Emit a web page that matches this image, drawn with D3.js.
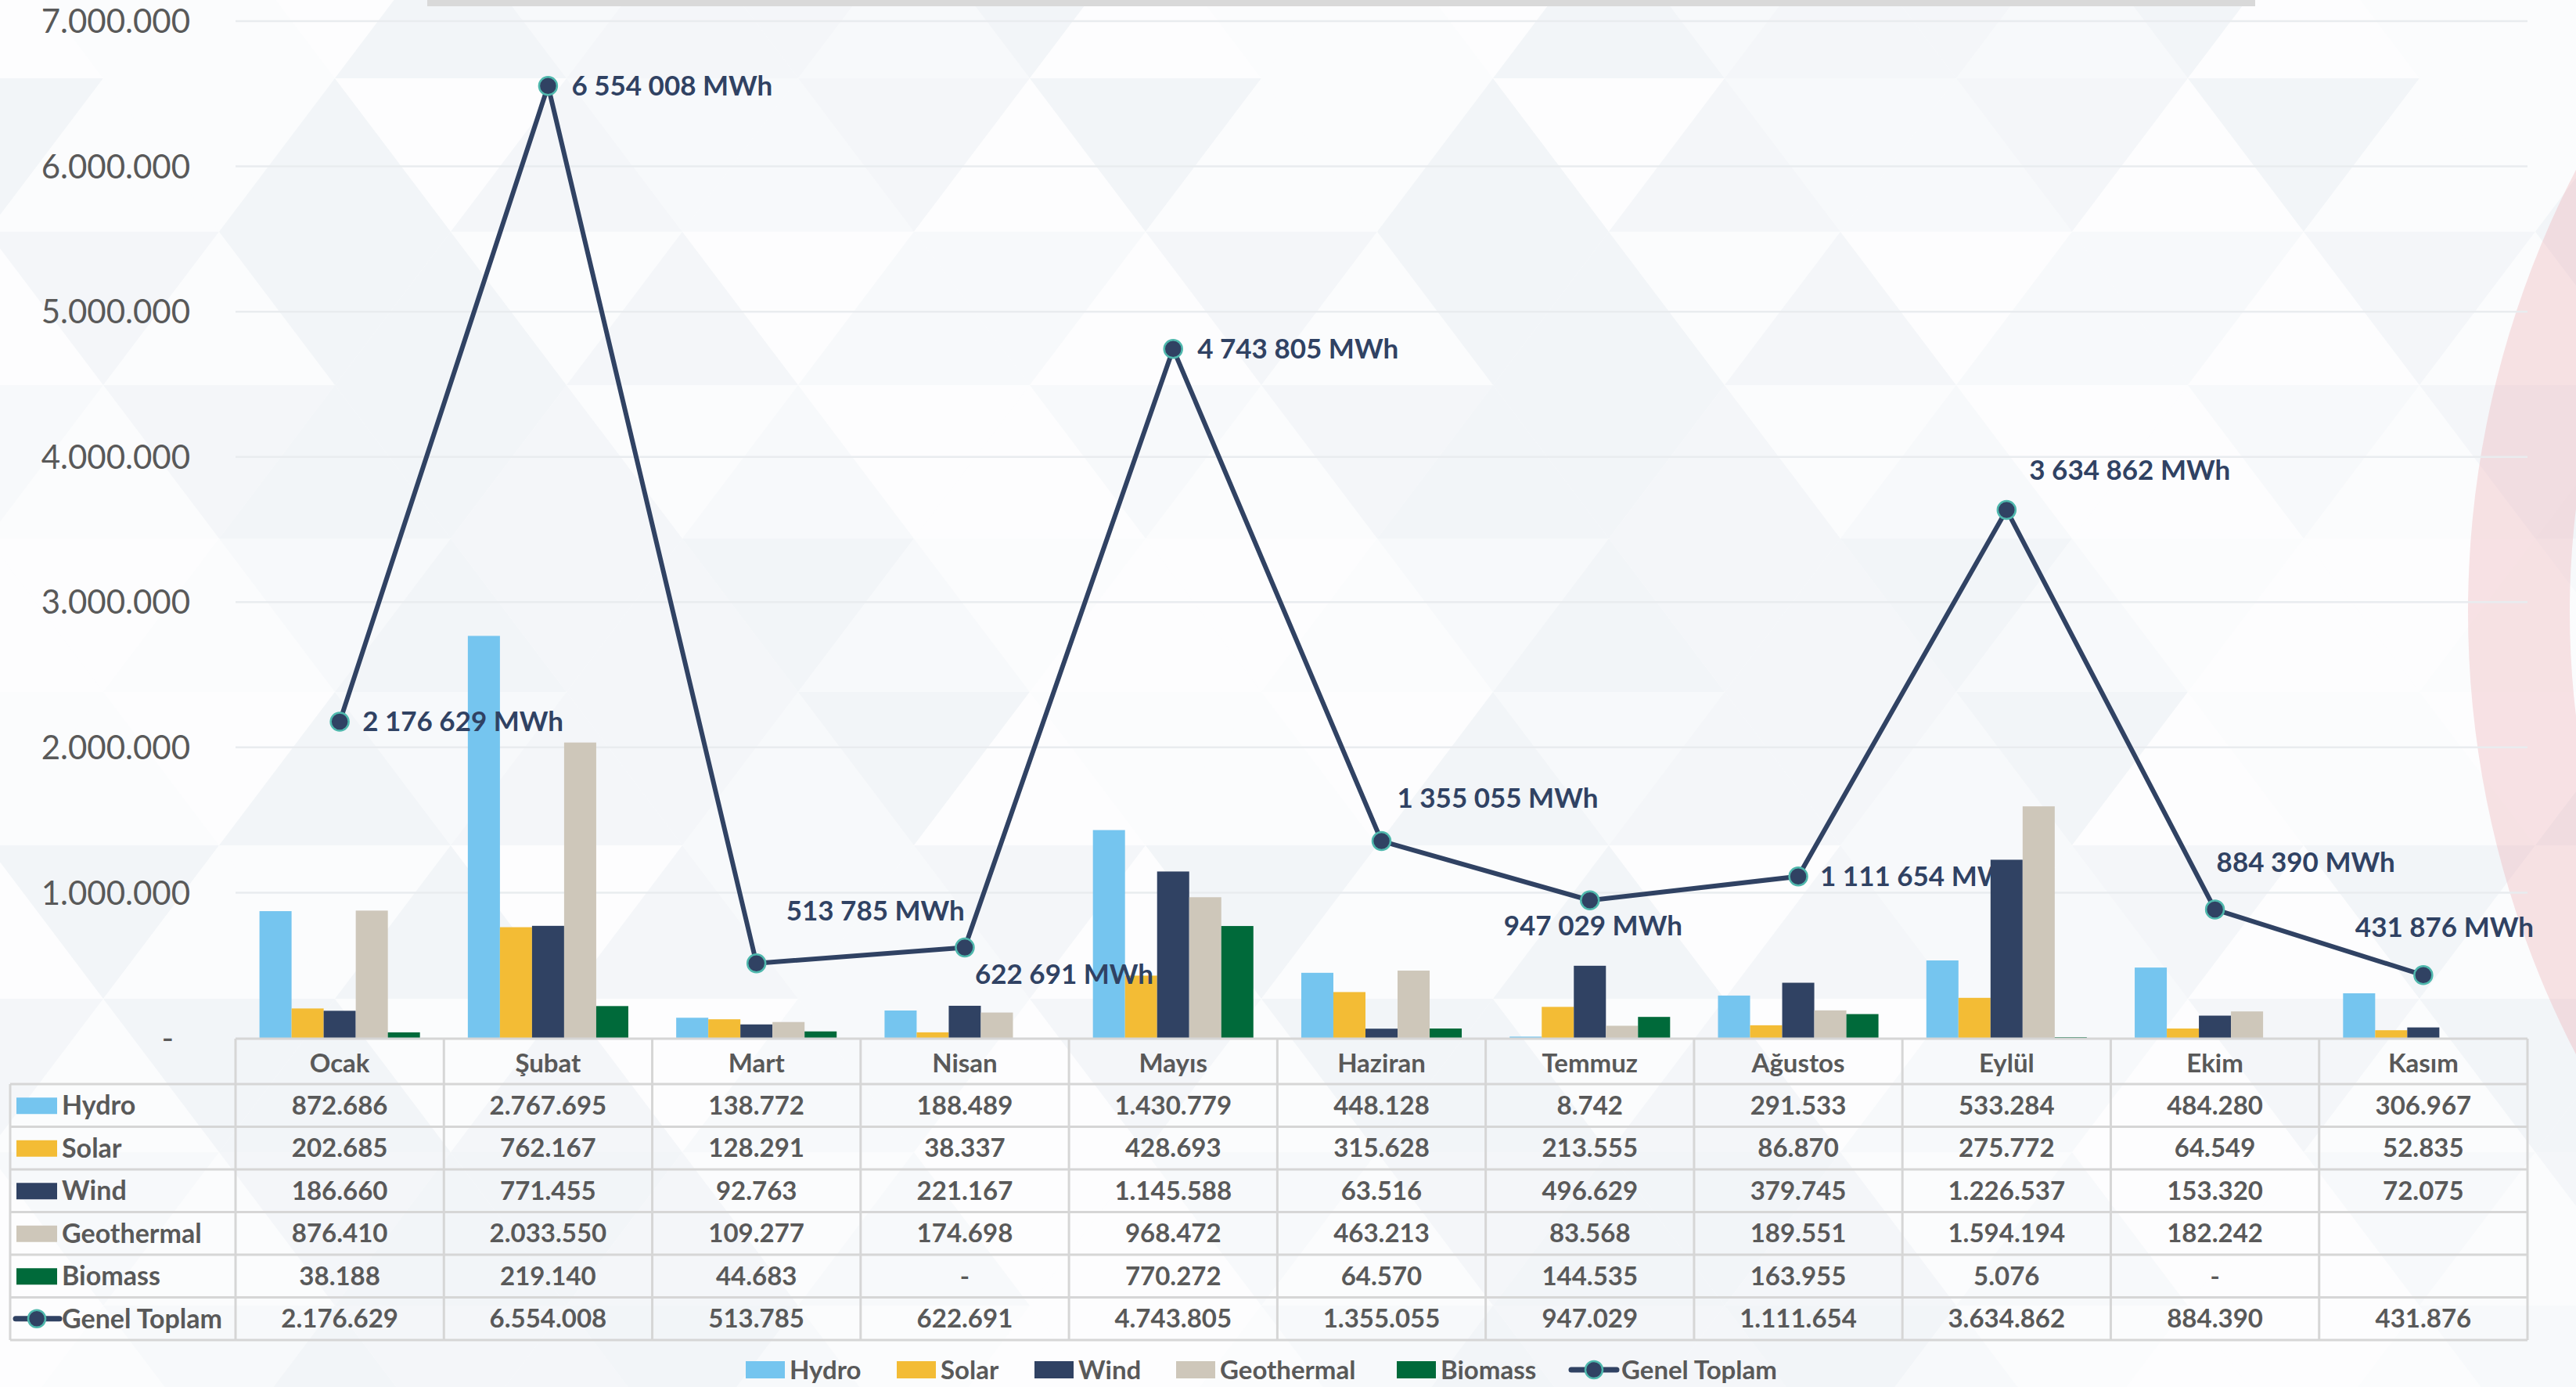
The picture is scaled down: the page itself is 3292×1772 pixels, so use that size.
<html>
<head>
<meta charset="UTF-8">
<title>Yenilenebilir Enerji</title>
<script src="https://d3js.org/d3.v7.min.js"></script>
<style>
 body { margin:0; background:#ffffff; }
 svg text { font-family: Lato, "Open Sans", sans-serif; }
</style>
</head>
<body>
<svg id="chart" width="3292" height="1772"></svg>
<script>
// data
var months = ["Ocak","Şubat","Mart","Nisan","Mayıs","Haziran","Temmuz","Ağustos","Eylül","Ekim","Kasım"];
var seriesNames = ["Hydro","Solar","Wind","Geothermal","Biomass"];
var hydro      = [872686, 2767695, 138772, 188489, 1430779, 448128, 8742, 291533, 533284, 484280, 306967];
var solar      = [202685, 762167, 128291, 38337, 428693, 315628, 213555, 86870, 275772, 64549, 52835];
var wind       = [186660, 771455, 92763, 221167, 1145588, 63516, 496629, 379745, 1226537, 153320, 72075];
var geothermal = [876410, 2033550, 109277, 174698, 968472, 463213, 83568, 189551, 1594194, 182242, null];
var biomass    = [38188, 219140, 44683, 0, 770272, 64570, 144535, 163955, 5076, 0, null];
var genelToplam = [2176629, 6554008, 513785, 622691, 4743805, 1355055, 947029, 1111654, 3634862, 884390, 431876];
var yTicks = [0, 1000000, 2000000, 3000000, 4000000, 5000000, 6000000, 7000000];
var lineName = "Genel Toplam";

// layout / style
var colors = {Hydro:"#75c5ef", Solar:"#f3bc35", Wind:"#304263", Geothermal:"#cec7ba", Biomass:"#006a3a"};
var lineColor = "#304263", markerStroke = "#4fb8ad", textGray = "#595959", gridGray = "#d6d6d6";
// where each total label sits relative to its point (px)
var labelOffsets = [[29,0],[30,0],[38,-67],[13,34],[31,0],[20,-55],[-110,32],[28,0],[29,-51],[2,-60],[-87,-61]];

var seriesValues = [hydro, solar, wind, geothermal, biomass];
var svg = d3.select("#chart");

var plotLeft = 301, plotRight = 3230;
var x0 = d3.scaleBand().domain(months).range([plotLeft, plotRight]);
var x1 = d3.scaleBand().domain(seriesNames).range([30.6, x0.bandwidth() - 30.6]);
var y = d3.scaleLinear().domain([0, 7000000]).range([1326, 27]);

/* background triangles */
svg.append("rect").attr("width", 3292).attr("height", 1772).style("fill", "#fafbfc");
var bg = svg.append("g");
var triW = 296, triH = 196, triX0 = 132, triY0 = 100;
var tris = [];
var md = function(a, n){ return ((a % n) + n) % n; };
for (var j = -1; j < 9; j++) {
  for (var k = -2; k < 13; k++) {
    var off = (md(j, 2) == 1) ? triW/2 : 0;
    var yt = triY0 + j*triH, xb = triX0 + k*triW + off;
    tris.push({pts:[[xb,yt],[xb+triW/2,yt+triH],[xb-triW/2,yt+triH]], s:md(j*5 + k*3 + 7, 5)});
    tris.push({pts:[[xb,yt],[xb+triW,yt],[xb+triW/2,yt+triH]], s:md(j*3 + k*7 + 2, 5)});
  }
}
var shades = ["#f2f5f8","#f7f9fb","#fbfcfd","#f4f6f9","#fdfdfe"];
bg.selectAll("polygon").data(tris).enter().append("polygon")
  .attr("points", function(d){ return d.pts.map(function(p){return p.join(",");}).join(" "); })
  .style("fill", function(d){ return shades[d.s]; });

// pink ring on the right edge
svg.append("path")
  .attr("d", d3.arc().innerRadius(1096).outerRadius(1226).startAngle(0).endAngle(2*Math.PI)())
  .attr("transform", "translate(4380,782)")
  .style("fill", "#eaa2aa").style("opacity", 0.3);

// grey strip at the top
svg.append("rect").attr("x", 546).attr("y", 0).attr("width", 2882-546).attr("height", 8).style("fill", "#d9d9d9");

/* gridlines + y axis */
var yAxis = d3.axisLeft(y).tickValues(yTicks).tickSize(0).tickPadding(0)
  .tickFormat(function(d){ return d == 0 ? "-" : d3.format(",")(d).replace(/,/g, "."); });
var gy = svg.append("g").attr("transform", "translate(243,0)").call(yAxis);
gy.select(".domain").remove();
gy.selectAll("text").style("font-size", "42px").style("fill", textGray)
  .style("font-family", "Lato, sans-serif").attr("dy", "0.35em")
  .attr("dx", function(d){ return d == 0 ? -21 : 0; });

svg.append("g").selectAll("line").data(yTicks.slice(1)).enter().append("line")
  .attr("x1", plotLeft).attr("x2", plotRight)
  .attr("y1", function(d){ return y(d); }).attr("y2", function(d){ return y(d); })
  .style("stroke", "#e9ecef").style("stroke-width", 2.5);

/* bars */
var groups = svg.append("g").selectAll("g").data(months).enter().append("g")
  .attr("transform", function(d){ return "translate(" + x0(d) + ",0)"; });
groups.selectAll("rect")
  .data(function(m, i){ return seriesNames.map(function(s, si){ return {s:s, v:seriesValues[si][i]}; }); })
  .enter().filter(function(d){ return d.v != null; }).append("rect")
  .attr("x", function(d){ return x1(d.s); })
  .attr("width", x1.bandwidth())
  .attr("y", function(d){ return y(d.v); })
  .attr("height", function(d){ return y(0) - y(d.v); })
  .style("fill", function(d){ return colors[d.s]; });

/* total line */
var pts = months.map(function(m, i){ return [x0(m) + x0.bandwidth()/2, y(genelToplam[i])]; });
svg.append("path").attr("d", d3.line()(pts))
  .style("fill", "none").style("stroke", lineColor).style("stroke-width", 6).style("stroke-linejoin", "round");
svg.append("g").selectAll("circle").data(pts).enter().append("circle")
  .attr("cx", function(d){ return d[0]; }).attr("cy", function(d){ return d[1]; }).attr("r", 11.5)
  .style("fill", lineColor).style("stroke", markerStroke).style("stroke-width", 2.5);

var spaceFmt = function(v){ return d3.format(",")(v).replace(/,/g, " ") + " MWh"; };
svg.append("g").selectAll("text").data(genelToplam).enter().append("text")
  .attr("x", function(d, i){ return pts[i][0] + labelOffsets[i][0]; })
  .attr("y", function(d, i){ return pts[i][1] + labelOffsets[i][1]; })
  .attr("dy", "0.35em")
  .text(spaceFmt)
  .style("font-size", "35px").style("font-weight", "bold").style("fill", lineColor);

/* data table */
var dotFmt = function(v){ return v == null ? "" : (v == 0 ? "-" : d3.format(",")(v).replace(/,/g, ".")); };
var tableTop = 1327, headH = 58, rowH = 54.5, legLeft = 13;
var rows = seriesNames.concat([lineName]);
var rowVals = seriesValues.concat([genelToplam]);
var tbl = svg.append("g");
var nRows = rows.length;
var tBottom = tableTop + headH + nRows*rowH;

// horizontal borders
tbl.append("line").attr("x1", plotLeft).attr("x2", plotRight).attr("y1", tableTop).attr("y2", tableTop);
for (var r = 0; r <= nRows; r++) {
  var yy = tableTop + headH + r*rowH;
  tbl.append("line").attr("x1", legLeft).attr("x2", plotRight).attr("y1", yy).attr("y2", yy);
}
// vertical borders
tbl.append("line").attr("x1", legLeft).attr("x2", legLeft).attr("y1", tableTop + headH).attr("y2", tBottom);
months.forEach(function(m){
  tbl.append("line").attr("x1", x0(m)).attr("x2", x0(m)).attr("y1", tableTop).attr("y2", tBottom);
});
tbl.append("line").attr("x1", plotRight).attr("x2", plotRight).attr("y1", tableTop).attr("y2", tBottom);
tbl.selectAll("line").style("stroke", gridGray).style("stroke-width", 3);

// month header
tbl.append("g").selectAll("text").data(months).enter().append("text")
  .attr("x", function(d){ return x0(d) + x0.bandwidth()/2; })
  .attr("y", tableTop + headH/2 + 2).attr("dy", "0.35em")
  .attr("text-anchor", "middle").text(function(d){ return d; })
  .style("font-size", "33px").style("font-weight", "bold").style("fill", textGray);

// row labels with keys
rows.forEach(function(name, r){
  var cy = tableTop + headH + r*rowH + rowH/2;
  if (name == lineName) {
    tbl.append("line").attr("x1", 20).attr("x2", 76).attr("y1", cy).attr("y2", cy)
      .style("stroke", lineColor).style("stroke-width", 7).style("stroke-linecap", "round");
    tbl.append("circle").attr("cx", 47).attr("cy", cy).attr("r", 11)
      .style("fill", lineColor).style("stroke", markerStroke).style("stroke-width", 2.5);
  } else {
    tbl.append("rect").attr("x", 21).attr("y", cy - 10).attr("width", 52).attr("height", 21)
      .style("fill", colors[name]);
  }
  tbl.append("text").attr("x", 79).attr("y", cy).attr("dy", "0.35em").text(name)
    .style("font-size", "34px").style("font-weight", "bold").style("fill", textGray);
  tbl.append("g").selectAll("text").data(rowVals[r]).enter().append("text")
    .attr("x", function(d, i){ return x0(months[i]) + x0.bandwidth()/2; })
    .attr("y", cy).attr("dy", "0.35em").attr("text-anchor", "middle")
    .text(dotFmt)
    .style("font-size", "33px").style("font-weight", "bold").style("fill", textGray);
});

/* bottom legend */
var legendX = [953, 1146, 1322, 1503, 1785];
var leg = svg.append("g");
var legY = 1750;
seriesNames.forEach(function(s, i){
  leg.append("rect").attr("x", legendX[i]).attr("y", legY - 11).attr("width", 50).attr("height", 22)
    .style("fill", colors[s]);
  leg.append("text").attr("x", legendX[i] + 56).attr("y", legY).attr("dy", "0.35em").text(s)
    .style("font-size", "33px").style("font-weight", "bold").style("fill", textGray);
});
leg.append("line").attr("x1", 2008).attr("x2", 2066).attr("y1", legY).attr("y2", legY)
  .style("stroke", lineColor).style("stroke-width", 7).style("stroke-linecap", "round");
leg.append("circle").attr("cx", 2037).attr("cy", legY).attr("r", 11)
  .style("fill", lineColor).style("stroke", markerStroke).style("stroke-width", 2.5);
leg.append("text").attr("x", 2072).attr("y", legY).attr("dy", "0.35em").text(lineName)
  .style("font-size", "33px").style("font-weight", "bold").style("fill", textGray);
</script>
</body>
</html>
